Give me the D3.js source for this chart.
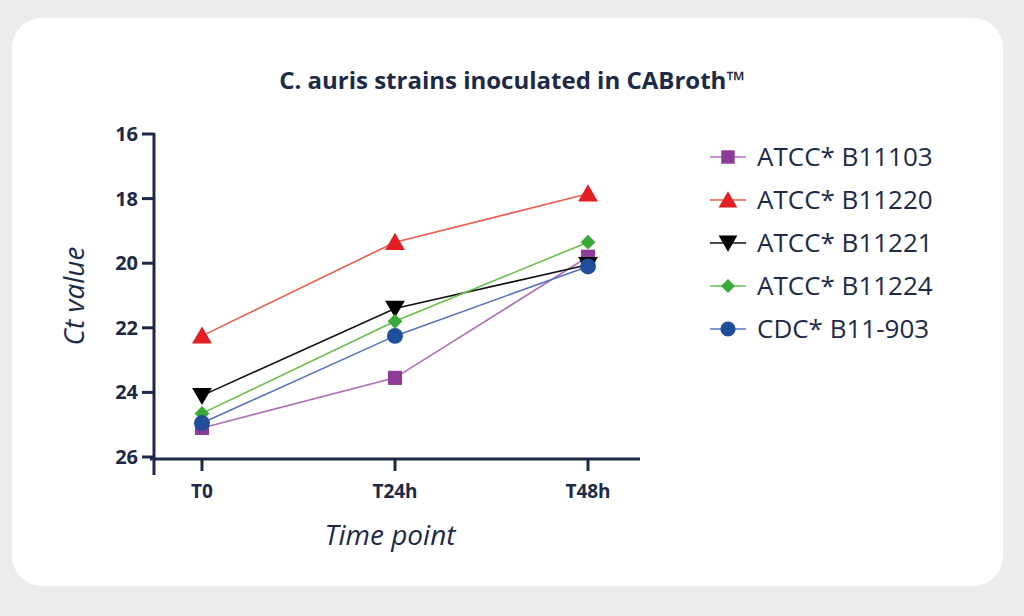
<!DOCTYPE html>
<html><head><meta charset="utf-8">
<script src="https://cdn.jsdelivr.net/npm/d3@7"></script>
<style>body{margin:0;background:#ececec}</style>
</head><body>
<script>
var categories = ["T0", "T24h", "T48h"];
var seriesNames = ["ATCC* B11103", "ATCC* B11220", "ATCC* B11221", "ATCC* B11224", "CDC* B11-903"];
var b11103 = [25.1, 23.55, 19.8];
var b11220 = [22.25, 19.35, 17.85];
var b11221 = [24.1, 21.4, 20.05];
var b11224 = [24.65, 21.8, 19.35];
var cdc903 = [24.95, 22.25, 20.1];
var yTicks = [16, 18, 20, 22, 24, 26];

var allSeries = [b11103, b11220, b11221, b11224, cdc903];
var lineColors = ["#b070b8", "#f25a4a", "#111111", "#66c04a", "#5a70c0"];
var markColors = ["#8e3d96", "#e31e24", "#000000", "#3aa935", "#1f4e9b"];
var symbols = [d3.symbolSquare, d3.symbolTriangle, d3.symbolTriangle, d3.symbolSquare, d3.symbolCircle];
var sizes = [200, 170, 170, 110, 200];
var navy = "#1c2a48";

var svg = d3.select("body").append("svg").attr("width", 1024).attr("height", 616);
svg.append("rect").attr("x", 12).attr("y", 18).attr("width", 991).attr("height", 568)
  .attr("rx", 30).attr("fill", "#fff");

svg.append("text").attr("x", 512).attr("y", 89).attr("text-anchor", "middle")
  .attr("font-family", "Open Sans").attr("font-weight", "bold").attr("font-size", 24)
  .attr("fill", navy).text("C. auris strains inoculated in CABroth\u2122");

var x = d3.scalePoint().domain(categories).range([202, 588]);
var y = d3.scaleLinear().domain([16, 26]).range([134, 457]);

var g = svg.append("g");
g.append("line").attr("x1", 154).attr("x2", 154).attr("y1", 133).attr("y2", 475)
  .attr("stroke", navy).attr("stroke-width", 3);
g.append("line").attr("x1", 150).attr("x2", 640).attr("y1", 459).attr("y2", 459)
  .attr("stroke", navy).attr("stroke-width", 3);
yTicks.forEach(function(t) {
  g.append("line").attr("x1", 142).attr("x2", 154).attr("y1", y(t)).attr("y2", y(t))
    .attr("stroke", navy).attr("stroke-width", 3);
  g.append("text").attr("x", 138).attr("y", y(t) + 7).attr("text-anchor", "end")
    .attr("font-family", "Open Sans").attr("font-weight", "bold").attr("font-size", 20)
    .attr("fill", navy).text(t);
});
categories.forEach(function(c) {
  g.append("line").attr("x1", x(c)).attr("x2", x(c)).attr("y1", 459).attr("y2", 471)
    .attr("stroke", navy).attr("stroke-width", 3);
  g.append("text").attr("x", x(c)).attr("y", 498).attr("text-anchor", "middle")
    .attr("font-family", "Open Sans").attr("font-weight", "bold").attr("font-size", 19)
    .attr("fill", navy).text(c);
});
svg.append("text").attr("x", 390).attr("y", 545).attr("text-anchor", "middle")
  .attr("font-family", "Open Sans").attr("font-style", "italic").attr("font-size", 28)
  .attr("fill", navy).text("Time point");
svg.append("text").attr("transform", "translate(84,296) rotate(-90)").attr("text-anchor", "middle")
  .attr("font-family", "Open Sans").attr("font-style", "italic").attr("font-size", 28)
  .attr("fill", navy).text("Ct value");

var line = d3.line().x(function(d, i) { return x(categories[i]); }).y(function(d) { return y(d); });

function sym(k, tx, ty) {
  var rot = k === 2 ? " rotate(180)" : k === 3 ? " rotate(45)" : "";
  return "translate(" + tx + "," + ty + ")" + rot;
}

allSeries.forEach(function(s, k) {
  svg.append("path").datum(s).attr("d", line).attr("fill", "none")
    .attr("stroke", lineColors[k]).attr("stroke-width", 1.6);
});
allSeries.forEach(function(s, k) {
  svg.selectAll(null).data(s).enter().append("path")
    .attr("d", d3.symbol().type(symbols[k]).size(sizes[k]))
    .attr("transform", function(d, i) { return sym(k, x(categories[i]), y(d) + (k === 1 ? 2 : k === 2 ? -2 : 0)); })
    .attr("fill", markColors[k]);
});

seriesNames.forEach(function(n, k) {
  var ly = 157 + k * 43;
  svg.append("line").attr("x1", 710).attr("x2", 746).attr("y1", ly).attr("y2", ly)
    .attr("stroke", lineColors[k]).attr("stroke-width", 1.6);
  svg.append("path").attr("d", d3.symbol().type(symbols[k]).size(sizes[k] * 0.9)())
    .attr("transform", sym(k, 728, ly + (k === 1 ? 2 : k === 2 ? -2 : 0))).attr("fill", markColors[k]);
  svg.append("text").attr("x", 757).attr("y", ly + 9)
    .attr("font-family", "Open Sans").attr("font-size", 26).attr("fill", navy).text(n);
});
</script>
</body></html>
